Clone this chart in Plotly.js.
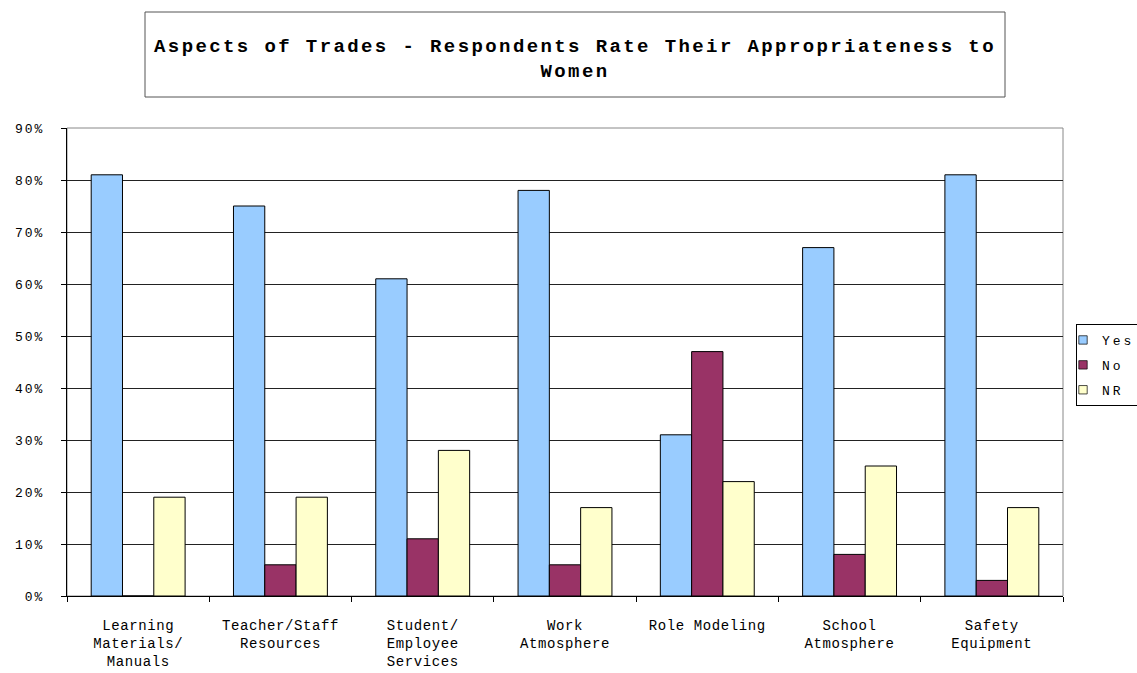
<!DOCTYPE html>
<html>
<head>
<meta charset="utf-8">
<script src="https://cdn.plot.ly/plotly-3.0.1.min.js"></script>
<style>
  html, body { margin: 0; padding: 0; background: #fff; }
  #chart { width: 1137px; height: 673px; }
  .gtitle { letter-spacing: 2.4px; }
  .ytick text { letter-spacing: 2px; }
  .xtick text { letter-spacing: 0.6px; }
  .legendtext { letter-spacing: 3px; transform: translateX(-15px); }
  .legendpoints path { transform: translate(6px, 0px) scale(0.7); }
</style>
</head>
<body>
<div id="chart"></div>
<script>
const categories = [
  "Learning<br>Materials/<br>Manuals",
  "Teacher/Staff<br>Resources",
  "Student/<br>Employee<br>Services",
  "Work<br>Atmosphere",
  "Role Modeling",
  "School<br>Atmosphere",
  "Safety<br>Equipment"
];
const yesValues = [81, 75, 61, 78, 31, 67, 81];
const noValues  = [0, 6, 11, 6, 47, 8, 3];
const nrValues  = [19, 19, 28, 17, 22, 25, 17];
const seriesNames = ["Yes", "No", "NR"];
const yTickVals = [0, 10, 20, 30, 40, 50, 60, 70, 80, 90];
const yTickText = yTickVals.map(v => v + "%");

const colors = ["#99CCFF", "#993366", "#FFFFCC"];
const seriesValues = [yesValues, noValues, nrValues];

const traces = seriesValues.map((vals, i) => ({
  type: "bar",
  name: seriesNames[i],
  x: categories,
  y: vals,
  legendgroup: "g" + i,
  marker: { color: colors[i], line: { color: "#000", width: 1 } },
  hoverinfo: "skip"
}));

const layout = {
  width: 1137,
  height: 673,
  paper_bgcolor: "#fff",
  plot_bgcolor: "#fff",
  margin: { l: 67, r: 74, t: 128, b: 77, autoexpand: false },
  barmode: "group",
  bargap: 0.34,
  bargroupgap: 0,
  title: {
    text: "Aspects of Trades - Respondents Rate Their Appropriateness to<br>Women",
    font: { family: "Liberation Mono", size: 19, color: "#000", weight: "bold" },
    x: 575 / 1137,
    xanchor: "center",
    xref: "container",
    y: 1 - 52 / 673,
    yanchor: "middle",
    yref: "container"
  },
  xaxis: {
    type: "category",
    tickson: "boundaries",
    ticks: "outside",
    ticklen: 5,
    tickcolor: "#000",
    showgrid: false,
    showline: true,
    linecolor: "#000",
    linewidth: 1,
    tickfont: { family: "Liberation Mono", size: 14, color: "#000" },
    ticklabelstandoff: 16,
    automargin: false,
    fixedrange: true
  },
  yaxis: {
    range: [0, 90],
    tickmode: "array",
    tickvals: yTickVals,
    ticktext: yTickText,
    ticks: "outside",
    ticklen: 5,
    tickcolor: "#000",
    showgrid: true,
    gridcolor: "#222",
    gridwidth: 1,
    showline: true,
    linecolor: "#000",
    linewidth: 1,
    zeroline: false,
    tickfont: { family: "Liberation Mono", size: 13, color: "#000" },
    ticklabelstandoff: 14,
    automargin: false,
    fixedrange: true
  },
  showlegend: true,
  legend: {
    x: (1076 - 67) / 996,
    xanchor: "left",
    y: (596 - 324) / 468,
    yanchor: "top",
    bordercolor: "#000",
    borderwidth: 1,
    bgcolor: "#fff",
    tracegroupgap: 5,
    itemwidth: 30,
    font: { family: "Liberation Mono", size: 13, color: "#000" }
  },
  shapes: [
    {
      type: "rect", xref: "paper", yref: "paper",
      x0: (145 - 67) / 996, x1: (1005 - 67) / 996,
      y0: (596 - 97) / 468, y1: (596 - 12) / 468,
      line: { color: "#555", width: 1 }, fillcolor: "rgba(0,0,0,0)"
    },
    {
      type: "rect", xref: "paper", yref: "paper",
      x0: 0, x1: 1, y0: 0, y1: 1,
      line: { color: "#888", width: 1 }, fillcolor: "rgba(0,0,0,0)", layer: "below"
    }
  ]
};

Plotly.newPlot("chart", traces, layout, { displayModeBar: false, staticPlot: true });
</script>
</body>
</html>
